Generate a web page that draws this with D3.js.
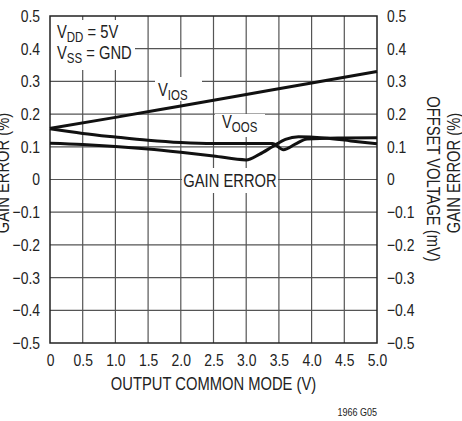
<!DOCTYPE html>
<html>

<head>
  <title>Offset and gain error vs output common mode</title>
</head>

<body>

  <svg id="svg" width="462" height="421"></svg>

  <script src="https://d3js.org/d3.v7.min.js"></script>
  <script>
    // tick values and labels
    const xTicks = [0, 0.5, 1.0, 1.5, 2.0, 2.5, 3.0, 3.5, 4.0, 4.5, 5.0]
    const xTickLabels = ['0', '0.5', '1.0', '1.5', '2.0', '2.5', '3.0', '3.5', '4.0', '4.5', '5.0']
    const yTicks = [-0.5, -0.4, -0.3, -0.2, -0.1, 0, 0.1, 0.2, 0.3, 0.4, 0.5]
    const yTickLabels = ['\u22120.5', '\u22120.4', '\u22120.3', '\u22120.2', '\u22120.1', '0', '0.1', '0.2', '0.3', '0.4', '0.5']

    // curves
    const viosX = [0, 1, 2, 3, 4, 5]
    const viosY = [0.156, 0.19, 0.225, 0.26, 0.295, 0.33]

    const voosX = [0, 0.5, 1.0, 1.5, 2.0, 2.5, 3.0, 3.4, 3.57, 3.75, 3.93, 4.5, 5.0]
    const voosY = [0.155, 0.141, 0.13, 0.12, 0.113, 0.11, 0.11, 0.11, 0.091, 0.108, 0.124, 0.127, 0.128]

    const gainX = [0, 0.5, 1.0, 1.5, 2.0, 2.5, 3.0, 3.2, 3.4, 3.6, 3.8, 4.2, 4.6, 5.0]
    const gainY = [0.111, 0.107, 0.101, 0.093, 0.083, 0.072, 0.06, 0.077, 0.1, 0.123, 0.131, 0.127, 0.118, 0.109]

    const font = '"Liberation Sans", Arial, sans-serif'
    const squeeze = 0.82 // the original type is a condensed face
    const plotLeft = 50, plotRight = 377, plotTop = 16, plotBottom = 343

    const svg = d3.select('#svg')

    const xscale = d3.scaleLinear().domain([0, 5]).range([plotLeft, plotRight])
    const yscale = d3.scaleLinear().domain([-0.5, 0.5]).range([plotBottom, plotTop])

    // grid
    svg.append('g')
      .selectAll('line')
      .data(xTicks.slice(1, -1))
      .join('line')
      .attr('x1', d => xscale(d)).attr('x2', d => xscale(d))
      .attr('y1', plotTop).attr('y2', plotBottom)
      .attr('stroke', '#555').attr('stroke-width', 1.2)

    svg.append('g')
      .selectAll('line')
      .data(yTicks.slice(1, -1))
      .join('line')
      .attr('y1', d => yscale(d)).attr('y2', d => yscale(d))
      .attr('x1', plotLeft).attr('x2', plotRight)
      .attr('stroke', '#555').attr('stroke-width', 1.2)

    // white boxes behind the labels
    const boxes = [
      [50, 20, 85, 50],
      [155, 77, 47, 24],
      [215, 114, 50, 23],
      [182, 168, 96, 25]
    ]
    svg.append('g')
      .selectAll('rect')
      .data(boxes)
      .join('rect')
      .attr('x', d => d[0]).attr('y', d => d[1])
      .attr('width', d => d[2]).attr('height', d => d[3])
      .attr('fill', 'white')

    // frame
    svg.append('rect')
      .attr('x', plotLeft).attr('y', plotTop)
      .attr('width', plotRight - plotLeft).attr('height', plotBottom - plotTop)
      .attr('fill', 'none').attr('stroke', '#222').attr('stroke-width', 1.5)

    // axes
    const xaxis = svg.append('g')
      .attr('transform', `translate(0,${plotBottom})`)
      .call(d3.axisBottom(xscale).tickValues(xTicks).tickSize(0).tickPadding(11)
        .tickFormat((d, i) => xTickLabels[i]))
    const yaxisL = svg.append('g')
      .attr('transform', `translate(${plotLeft},0)`)
      .call(d3.axisLeft(yscale).tickValues(yTicks).tickSize(0).tickPadding(10)
        .tickFormat((d, i) => yTickLabels[i]))
    const yaxisR = svg.append('g')
      .attr('transform', `translate(${plotRight},0)`)
      .call(d3.axisRight(yscale).tickValues(yTicks).tickSize(0).tickPadding(10)
        .tickFormat((d, i) => yTickLabels[i]))

    for (const ax of [xaxis, yaxisL, yaxisR]) {
      ax.select('.domain').remove()
      ax.selectAll('text')
        .attr('font-family', font).attr('font-size', 17).attr('fill', '#222')
        .attr('x', function () { return +d3.select(this).attr('x') / squeeze })
        .attr('transform', `scale(${squeeze},1)`)
    }

    // curves
    const linegen = d3.line()
      .x(d => xscale(d[0]))
      .y(d => yscale(d[1]))
      .curve(d3.curveMonotoneX)

    const series = [
      d3.zip(viosX, viosY),
      d3.zip(voosX, voosY),
      d3.zip(gainX, gainY)
    ]
    svg.append('g')
      .selectAll('path')
      .data(series)
      .join('path')
      .attr('d', linegen)
      .attr('fill', 'none')
      .attr('stroke', '#111')
      .attr('stroke-width', 3)

    // narrow text at a point, optionally rotated
    function label(x, y, size, rot) {
      return svg.append('text')
        .attr('transform', `translate(${x},${y}) rotate(${rot || 0}) scale(${squeeze},1)`)
        .attr('font-family', font).attr('font-size', size).attr('fill', '#222')
    }

    function subLabel(x, y, main, sub, rest) {
      const t = label(x, y, 18)
      t.append('tspan').text(main)
      t.append('tspan').attr('font-size', 14).attr('dy', 4).text(sub)
      if (rest) t.append('tspan').attr('dy', -4).text(rest)
    }
    subLabel(57, 38, 'V', 'DD', ' = 5V')
    subLabel(57, 59, 'V', 'SS', ' = GND')
    subLabel(158, 96, 'V', 'IOS')
    subLabel(222, 128, 'V', 'OOS')

    label(230, 187, 18).attr('text-anchor', 'middle').text('GAIN ERROR')

    label((plotLeft + plotRight) / 2, 390, 18).attr('text-anchor', 'middle')
      .text('OUTPUT COMMON MODE (V)')

    label(9, 173, 18, -90).attr('text-anchor', 'middle').text('GAIN ERROR (%)')
    label(427, 179, 18, 90).attr('text-anchor', 'middle').text('OFFSET VOLTAGE (mV)')
    label(460, 173, 18, -90).attr('text-anchor', 'middle').text('GAIN ERROR (%)')

    label(377, 416, 11).attr('text-anchor', 'end').text('1966 G05')
  </script>
</body>

<style>
  body,
  html {
    margin: 0;
    padding: 0;
    background: white;
  }

  #svg {
    display: block;
  }
</style>

</html>
